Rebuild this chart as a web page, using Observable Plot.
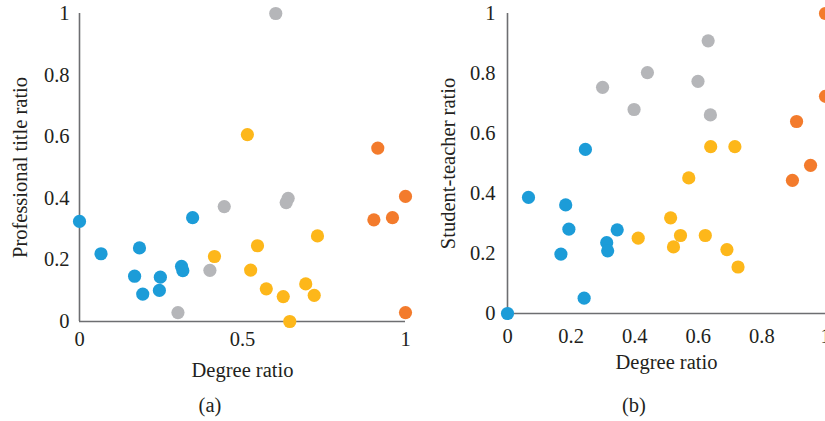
<!DOCTYPE html>
<html><head><meta charset="utf-8">
<script src="https://cdn.jsdelivr.net/npm/d3@7"></script>
<script src="https://cdn.jsdelivr.net/npm/@observablehq/plot@0.6"></script>
<style>
html,body{margin:0;padding:0;background:#fff;overflow:hidden}
#wrap{position:relative;width:825px;height:421px;font-family:"Liberation Serif",serif;color:#231f20}
.panel{position:absolute;top:0}
.cap{position:absolute;font-size:20.5px;transform:translate(-50%,-50%);white-space:nowrap}
</style></head><body><div id="wrap"></div>
<script>
// groups and colours
const groups = ["Cluster 1", "Cluster 2", "Cluster 3", "Cluster 4"];
const groupColors = ["#1c9cd8", "#fdb71a", "#b5b6b9", "#f37b2c"];

// Panel (a): degree ratio vs professional title ratio
const aBlueX = [0, 0.347, 0.066, 0.184, 0.313, 0.317, 0.169, 0.248, 0.194, 0.245];
const aBlueY = [0.325, 0.337, 0.220, 0.239, 0.179, 0.165, 0.147, 0.144, 0.089, 0.101];
const aYellowX = [0.515, 0.730, 0.546, 0.414, 0.525, 0.573, 0.694, 0.625, 0.720, 0.645];
const aYellowY = [0.607, 0.278, 0.246, 0.211, 0.167, 0.106, 0.122, 0.081, 0.085, 0.0];
const aGreyX = [0.602, 0.444, 0.640, 0.634, 0.400, 0.302];
const aGreyY = [1.0, 0.373, 0.400, 0.386, 0.166, 0.029];
const aOrangeX = [0.915, 1.0, 0.903, 0.960, 1.0];
const aOrangeY = [0.563, 0.406, 0.330, 0.337, 0.029];

// Panel (b): degree ratio vs student-teacher ratio
const bBlueX = [0.245, 0.066, 0.183, 0.193, 0.345, 0.312, 0.315, 0.168, 0.241, 0];
const bBlueY = [0.547, 0.387, 0.362, 0.281, 0.279, 0.236, 0.209, 0.198, 0.051, 0];
const bYellowX = [0.639, 0.715, 0.570, 0.411, 0.513, 0.544, 0.622, 0.522, 0.690, 0.725];
const bYellowY = [0.556, 0.556, 0.452, 0.251, 0.319, 0.260, 0.260, 0.222, 0.213, 0.155];
const bGreyX = [0.631, 0.440, 0.299, 0.599, 0.398, 0.638];
const bGreyY = [0.909, 0.803, 0.754, 0.774, 0.680, 0.662];
const bOrangeX = [1.0, 1.0, 0.909, 0.953, 0.896];
const bOrangeY = [1.0, 0.724, 0.640, 0.494, 0.444];

// ticks and labels
const aXTicks = [0, 0.5, 1];
const bXTicks = [0, 0.2, 0.4, 0.6, 0.8, 1];
const yTicks = [0, 0.2, 0.4, 0.6, 0.8, 1];
const xLabel = "Degree ratio";
const aYLabel = "Professional title ratio";
const bYLabel = "Student-teacher ratio";
const captions = ["(a)", "(b)"];

function rows(xsList, ysList) {
  const out = [];
  xsList.forEach((xs, g) => xs.forEach((x, i) => out.push({x, y: ysList[g][i], group: groups[g]})));
  return out;
}

const FS = 20.5;

function panel(opts) {
  return Plot.plot({
    width: opts.width, height: 400,
    marginTop: 13, marginBottom: opts.marginBottom, marginLeft: opts.marginLeft, marginRight: opts.marginRight,
    style: {fontFamily: '"Liberation Serif", serif', fontSize: FS + "px", color: "#231f20", background: "transparent", overflow: "hidden"},
    x: {domain: [0, 1]},
    y: {domain: [0, 1]},
    color: {domain: groups, range: groupColors},
    marks: [
      Plot.axisX({ticks: opts.xTicks, tickSize: 0, tickPadding: opts.xPad, tickFormat: d => String(d), fontSize: FS,
        label: xLabel, labelAnchor: "center", labelOffset: opts.xLabelOffset, labelArrow: false}),
      Plot.axisY({ticks: yTicks, tickSize: 0, tickPadding: opts.yPad, tickFormat: d => String(d), fontSize: FS,
        label: opts.yLabel, labelAnchor: "center", labelOffset: opts.yLabelOffset, labelArrow: false}),
      Plot.ruleY([0], {stroke: "#6d6e71", strokeWidth: 1.6}),
      Plot.ruleX([0], {stroke: "#6d6e71", strokeWidth: 1.6}),
      Plot.dot(opts.data, {x: "x", y: "y", fill: "group", r: 6.6})
    ]
  });
}

const wrap = document.getElementById("wrap");

const pa = panel({
  width: 420, marginLeft: 79, marginRight: 15, marginBottom: 79,
  xTicks: aXTicks, xPad: 10, yPad: 10, xLabelOffset: 55, yLabelOffset: 67, yLabel: aYLabel,
  data: rows([aBlueX, aYellowX, aGreyX, aOrangeX], [aBlueY, aYellowY, aGreyY, aOrangeY])
});
pa.classList.add("panel"); pa.style.left = "0px";
wrap.appendChild(pa);

const pb = panel({
  width: 405, marginLeft: 87, marginRight: 0, marginBottom: 87,
  xTicks: bXTicks, xPad: 15, yPad: 12, xLabelOffset: 55, yLabelOffset: 67, yLabel: bYLabel,
  data: rows([bBlueX, bYellowX, bGreyX, bOrangeX], [bBlueY, bYellowY, bGreyY, bOrangeY])
});
pb.classList.add("panel"); pb.style.left = "420px";
wrap.appendChild(pb);

[[captions[0], 210, 405], [captions[1], 634, 405]].forEach(([t, x, y]) => {
  const d = document.createElement("div");
  d.className = "cap"; d.textContent = t;
  d.style.left = x + "px"; d.style.top = y + "px";
  wrap.appendChild(d);
});
</script></body></html>
